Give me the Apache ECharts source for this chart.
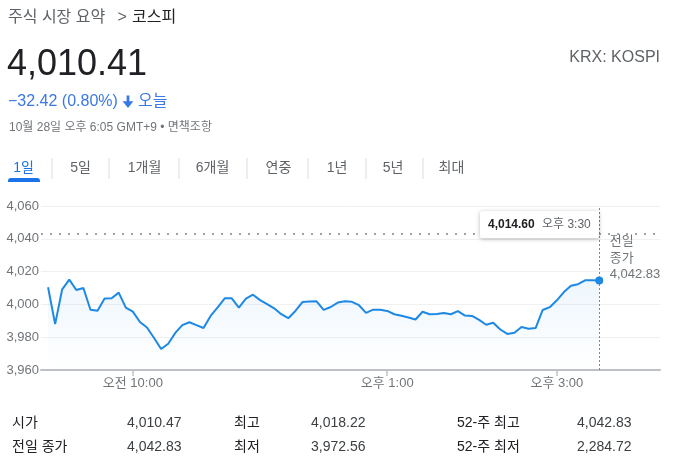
<!DOCTYPE html>
<html>
<head>
<meta charset="utf-8">
<script src="https://cdn.jsdelivr.net/npm/echarts@6/dist/echarts.min.js"></script>
<style>
  html, body { margin: 0; padding: 0; background: #fff; }
  #chart { width: 682px; height: 469px; }
</style>
</head>
<body>
<div id="chart"></div>
<script>
// ---- data ----
const times = [
  '09:00','09:05','09:10','09:15','09:20','09:25','09:30','09:35','09:40','09:45','09:50','09:55',
  '10:00','10:05','10:10','10:15','10:20','10:25','10:30','10:35','10:40','10:45','10:50','10:55',
  '11:00','11:05','11:10','11:15','11:20','11:25','11:30','11:35','11:40','11:45','11:50','11:55',
  '12:00','12:05','12:10','12:15','12:20','12:25','12:30','12:35','12:40','12:45','12:50','12:55',
  '13:00','13:05','13:10','13:15','13:20','13:25','13:30','13:35','13:40','13:45','13:50','13:55',
  '14:00','14:05','14:10','14:15','14:20','14:25','14:30','14:35','14:40','14:45','14:50','14:55',
  '15:00','15:05','15:10','15:15','15:20','15:25','15:30'
];
const values = [
  4010.47, 3988.0, 4009.2, 4015.1, 4008.8, 4010.0, 3996.7, 3996.2, 4003.6, 4003.8, 4007.2, 3998.0,
  3995.6, 3989.3, 3985.9, 3979.5, 3972.8, 3976.0, 3982.6, 3987.4, 3989.1, 3987.4, 3985.6, 3993.0,
  3998.2, 4003.7, 4003.7, 3998.0, 4003.5, 4005.9, 4002.6, 4000.2, 3997.6, 3994.0, 3991.6, 3996.0,
  4001.4, 4001.7, 4001.9, 3996.7, 3998.4, 4001.1, 4001.9, 4001.6, 3999.5, 3994.8, 3996.8, 3996.7,
  3996.0, 3994.0, 3993.1, 3992.0, 3990.8, 3995.5, 3994.0, 3994.1, 3994.8, 3994.0, 3995.9, 3993.2,
  3993.0, 3990.6, 3987.6, 3988.8, 3984.7, 3982.0, 3982.7, 3986.2, 3985.2, 3985.6, 3996.6, 3998.3,
  4002.5, 4007.5, 4011.4, 4012.3, 4014.7, 4014.8, 4014.60
];
const prevClose = 4042.83;
const xTickTimes = ['10:00', '13:00', '15:00'];
const yMin = 3960, yMax = 4060, yInterval = 20;

const breadcrumb = '주식 시장 요약';
const breadcrumbSep = '>';
const breadcrumbCurrent = '코스피';
const priceText = '4,010.41';
const changeText = '−32.42 (0.80%)';
const todayText = '오늘';
const dateText = '10월 28일 오후 6:05 GMT+9 • 면책조항';
const tickerText = 'KRX: KOSPI';
const tabs = ['1일', '5일', '1개월', '6개월', '연중', '1년', '5년', '최대'];
const statLabelsA = ['시가', '전일 종가'];
const statValuesA = ['4,010.47', '4,042.83'];
const statLabelsB = ['최고', '최저'];
const statValuesB = ['4,018.22', '3,972.56'];
const statLabelsC = ['52-주 최고', '52-주 최저'];
const statValuesC = ['4,042.83', '2,284.72'];

// ---- helpers ----
const FONT = '"Liberation Sans", Arial, "Noto Sans CJK KR", sans-serif';
const toMin = t => { const p = t.split(':'); return +p[0] * 60 + +p[1]; };
const fmtTime = m => {
  const h = Math.floor(m / 60), mm = m % 60;
  const ampm = h < 12 ? '오전' : '오후';
  const h12 = h > 12 ? h - 12 : h;
  return ampm + ' ' + h12 + ':' + String(mm).padStart(2, '0');
};
const fmtNum = (v, d) => v.toLocaleString('en-US', { minimumFractionDigits: d, maximumFractionDigits: d });

function txt(x, y, text, size, color, opts) {
  opts = opts || {};
  return {
    type: 'text', x: x, y: y, silent: true, z: 100,
    style: {
      text: text, fill: color,
      fontSize: size, fontFamily: FONT, fontWeight: opts.weight || 'normal',
      align: opts.align || 'left', textAlign: opts.align || 'left',
      verticalAlign: 'middle', textVerticalAlign: 'middle'
    }
  };
}

const seriesData = times.map((t, i) => [toMin(t), values[i]]);
const lastX = toMin(times[times.length - 1]);
const lastV = values[values.length - 1];
const xTickValues = xTickTimes.map(toMin);

// ---- graphics (header, tabs, stats, tooltip box) ----
const g = [];
g.push(txt(8, 18, breadcrumb, 16, '#5f6368'));
g.push(txt(117.5, 18, breadcrumbSep, 16, '#5f6368'));
g.push(txt(132, 18, breadcrumbCurrent, 16, '#202124'));
g.push(txt(7, 65, priceText, 36, '#202124'));
g.push(txt(8, 102, changeText, 16, '#3b78e7'));
g.push({
  type: 'polygon', silent: true, z: 100,
  shape: { points: [[126.6,95.5],[129.4,95.5],[129.4,101.2],[133.4,101.2],[128,108],[122.6,101.2],[126.6,101.2]] },
  style: { fill: '#3b78e7' }
});
g.push(txt(138, 102, todayText, 16, '#3b78e7'));
g.push(txt(9, 128, dateText, 12, '#70757a'));
g.push(txt(660, 58, tickerText, 16, '#5f6368', { align: 'right' }));

const tabCenters = [23.5, 80.5, 144.5, 212.5, 278.5, 337, 393, 451.5];
const tabSeps = [52, 109, 179, 247, 308, 366, 423];
tabs.forEach((t, i) => {
  g.push(txt(tabCenters[i], 168, t, 14, i === 0 ? '#1a73e8' : '#5f6368', { align: 'center' }));
});
tabSeps.forEach(x => {
  g.push({ type: 'line', silent: true, z: 100, shape: { x1: x, y1: 158, x2: x, y2: 179 }, style: { stroke: '#dadce0', lineWidth: 1 } });
});
g.push({ type: 'rect', silent: true, z: 100, shape: { x: 8, y: 178, width: 32, height: 4, r: [3, 3, 0, 0] }, style: { fill: '#1a73e8' } });

const rowY = [423, 447];
[0, 1].forEach(r => {
  g.push(txt(12, rowY[r], statLabelsA[r], 14, '#202124'));
  g.push(txt(127, rowY[r], statValuesA[r], 14, '#3c4043'));
  g.push(txt(234, rowY[r], statLabelsB[r], 14, '#202124'));
  g.push(txt(311, rowY[r], statValuesB[r], 14, '#3c4043'));
  g.push(txt(457, rowY[r], statLabelsC[r], 14, '#202124'));
  g.push(txt(577, rowY[r], statValuesC[r], 14, '#3c4043'));
});

// tooltip-like box
g.push({
  type: 'rect', silent: true, z: 110,
  shape: { x: 480, y: 211, width: 119, height: 27, r: 2 },
  style: { fill: '#ffffff', shadowBlur: 4, shadowColor: 'rgba(0,0,0,0.28)', shadowOffsetY: 1 }
});
g.push(Object.assign(txt(488, 224.5, fmtNum(lastV, 2), 12, '#202124', { weight: 'bold' }), { z: 111 }));
g.push(Object.assign(txt(542, 224.5, fmtTime(lastX), 12, '#5f6368'), { z: 111 }));

const chart = echarts.init(document.getElementById('chart'), null, { renderer: 'canvas' });
chart.setOption({
  animation: false,
  backgroundColor: '#ffffff',
  textStyle: { fontFamily: FONT },
  grid: { left: 41, right: 22, top: 206, bottom: 99 },
  xAxis: {
    type: 'value', min: 535, max: 973,
    splitLine: { show: false },
    axisLine: { show: true, lineStyle: { color: '#bdc1c6', width: 2 } },
    axisTick: { show: true, customValues: xTickValues, length: 6, lineStyle: { color: '#bdc1c6', width: 1.5 } },
    axisLabel: {
      customValues: xTickValues,
      formatter: v => fmtTime(v),
      color: '#70757a', fontSize: 13, margin: 7, fontFamily: FONT
    }
  },
  yAxis: {
    type: 'value', min: yMin, max: yMax, interval: yInterval,
    axisLine: { show: false }, axisTick: { show: false },
    splitLine: { lineStyle: { color: '#f0f0f0', width: 1 } },
    axisLabel: { formatter: v => fmtNum(v, 0), color: '#70757a', fontSize: 13, margin: 2, fontFamily: FONT }
  },
  series: [{
    type: 'line',
    data: seriesData,
    showSymbol: false, symbol: 'none',
    lineStyle: { color: '#1e88e5', width: 2 },
    itemStyle: { color: '#1e88e5' },
    areaStyle: {
      color: new echarts.graphic.LinearGradient(0, 0, 0, 1, [
        { offset: 0, color: 'rgba(30,136,229,0.11)' },
        { offset: 1, color: 'rgba(30,136,229,0)' }
      ])
    },
    markLine: {
      silent: true, symbol: ['none', 'none'], label: { show: false },
      data: [
        { yAxis: prevClose, lineStyle: { type: [2, 7], color: '#80868b', width: 1.5 } },
        { xAxis: lastX, lineStyle: { type: [2, 2], color: '#80868b', width: 1 } }
      ]
    },
    markPoint: {
      silent: true,
      data: [
        { coord: [lastX, lastV], symbol: 'circle', symbolSize: 8, itemStyle: { color: '#1e88e5' }, label: { show: false } },
        {
          coord: [lastX, prevClose], symbol: 'circle', symbolSize: 1, itemStyle: { color: 'rgba(0,0,0,0)' },
          label: {
            show: true, position: [11, 0], align: 'left', verticalAlign: 'top',
            lineHeight: 16.5, fontSize: 13, color: '#70757a', fontFamily: FONT,
            formatter: '전일\n종가\n' + fmtNum(prevClose, 2)
          }
        }
      ]
    }
  }],
  graphic: g
});
</script>
</body>
</html>
